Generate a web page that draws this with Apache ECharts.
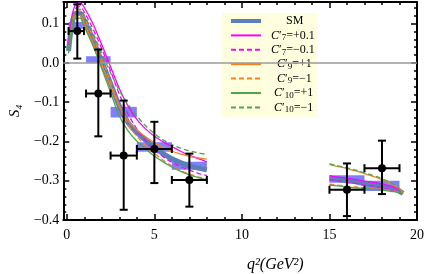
<!DOCTYPE html>
<html><head><meta charset="utf-8">
<script src="https://cdn.jsdelivr.net/npm/echarts@6/dist/echarts.min.js"></script>
<style>html,body{margin:0;padding:0;background:#fff}#c{width:427px;height:274px}</style>
</head><body><div id="c"></div>
<script>
// ---- data ----
const qLow  = [0.1,0.3,0.5,0.75,1,1.5,2,2.5,3,3.5,4,4.5,5,5.5,6,6.5,7,7.5,8];
const smLow   = [0.030,0.100,0.126,0.127,0.108,0.058,0.003,-0.052,-0.110,-0.152,-0.177,-0.197,-0.215,-0.231,-0.244,-0.254,-0.262,-0.268,-0.272];
const c7pLow  = [0.045,0.120,0.148,0.153,0.141,0.099,0.046,-0.010,-0.065,-0.110,-0.144,-0.168,-0.187,-0.201,-0.213,-0.225,-0.235,-0.244,-0.252];
const c7mLow  = [0.038,0.110,0.138,0.143,0.129,0.086,0.036,-0.020,-0.080,-0.130,-0.168,-0.198,-0.221,-0.239,-0.253,-0.264,-0.273,-0.281,-0.287];
const c9pLow  = [0.028,0.095,0.120,0.121,0.100,0.050,-0.005,-0.058,-0.110,-0.147,-0.170,-0.188,-0.203,-0.215,-0.225,-0.232,-0.238,-0.242,-0.245];
const c9mLow  = [0.032,0.103,0.130,0.132,0.114,0.066,0.010,-0.047,-0.110,-0.158,-0.187,-0.210,-0.230,-0.248,-0.262,-0.274,-0.283,-0.290,-0.295];
const c10pLow = [0.024,0.088,0.113,0.114,0.092,0.043,-0.015,-0.075,-0.135,-0.173,-0.199,-0.219,-0.237,-0.252,-0.265,-0.276,-0.285,-0.292,-0.298];
const c10mLow = [0.036,0.105,0.133,0.137,0.121,0.076,0.024,-0.025,-0.070,-0.105,-0.135,-0.160,-0.180,-0.196,-0.208,-0.217,-0.224,-0.229,-0.233];

const qHigh = [15,15.5,16,16.5,17,17.5,18,18.5,19,19.2];
const smHigh   = [-0.293,-0.297,-0.300,-0.303,-0.307,-0.310,-0.314,-0.319,-0.327,-0.332];
const c7pHigh  = [-0.287,-0.291,-0.294,-0.297,-0.301,-0.304,-0.308,-0.314,-0.323,-0.330];
const c7mHigh  = [-0.297,-0.301,-0.304,-0.307,-0.311,-0.314,-0.318,-0.322,-0.329,-0.333];
const c9pHigh  = [-0.259,-0.264,-0.269,-0.275,-0.282,-0.289,-0.297,-0.307,-0.321,-0.331];
const c9mHigh  = [-0.309,-0.311,-0.314,-0.316,-0.318,-0.320,-0.322,-0.325,-0.329,-0.333];
const c10pHigh = [-0.311,-0.313,-0.316,-0.318,-0.320,-0.322,-0.324,-0.327,-0.330,-0.333];
const c10mHigh = [-0.257,-0.262,-0.267,-0.273,-0.280,-0.287,-0.295,-0.305,-0.320,-0.331];

// SM binned predictions
const binLo   = [0.1, 1.1, 2.5, 4, 6, 15, 17];
const binHi   = [0.98, 2.5, 4, 6, 8, 17, 19];
const smBinLo = [0.087, 0.000, -0.139, -0.226, -0.272, -0.305, -0.326];
const smBinHi = [0.104, 0.017, -0.112, -0.202, -0.252, -0.286, -0.300];

// measurements
const expX    = [0.6, 1.8, 3.25, 5, 7, 16, 18];
const expY    = [0.081, -0.078, -0.236, -0.219, -0.298, -0.323, -0.268];
const expYHi  = [0.149, 0.034, -0.096, -0.150, -0.231, -0.256, -0.198];
const expYLo  = [0.011, -0.187, -0.374, -0.306, -0.366, -0.390, -0.334];

// horizontal reference line
const refLineX = [-0.2, 20];
const refLineY = 0;

const xMajor = [0, 5, 10, 15, 20];
const xMinor = [1,2,3,4,6,7,8,9,11,12,13,14,16,17,18,19];

const names = ['SM','C7p','C7m','C9p','C9m','C10p','C10m'];
const legendText = {
  SM:   '{sm|SM}',
  C7p:  '{a|C}{t|′}{s|7}{t|=+0.1}',
  C7m:  '{a|C}{t|′}{s|7}{t|=−0.1}',
  C9p:  '{b|C}{t|′}{s|9}{t|=+1}',
  C9m:  '{b|C}{t|′}{s|9}{t|=−1}',
  C10p: '{c|C}{t|′}{s|10}{t|=+1}',
  C10m: '{c|C}{t|′}{s|10}{t|=−1}'
};

// ---- build ----
const zip = (xs, ys) => xs.map((x, i) => [x, ys[i]]);
const SERIF = 'Liberation Serif, DejaVu Serif, serif';
const colSM = '#5b7fb8', colMag = '#ff00ff', colOr = '#f5821f', colGr = '#4ca64c';

function curve(name, xs, ys, color, width, type) {
  return { name, type: 'line', data: zip(xs, ys), smooth: 0.35, symbol: 'none', silent: true,
    lineStyle: { color, width, type: type || 'solid' }, itemStyle: { color }, z: 2 };
}

const series = [
  curve('SM', qLow, smLow, colSM, 5), curve('SM', qHigh, smHigh, colSM, 5),
  curve('C7p', qLow, c7pLow, colMag, 1.3), curve('C7p', qHigh, c7pHigh, colMag, 1.3),
  curve('C7m', qLow, c7mLow, colMag, 1.3, [5, 3]), curve('C7m', qHigh, c7mHigh, colMag, 1.3, [5, 3]),
  curve('C9p', qLow, c9pLow, colOr, 1.3), curve('C9p', qHigh, c9pHigh, colOr, 1.3),
  curve('C9m', qLow, c9mLow, colOr, 1.3, [5, 3]), curve('C9m', qHigh, c9mHigh, colOr, 1.3, [5, 3]),
  curve('C10p', qLow, c10pLow, colGr, 1.3), curve('C10p', qHigh, c10pHigh, colGr, 1.3),
  curve('C10m', qLow, c10mLow, colGr, 1.3, [5, 3]), curve('C10m', qHigh, c10mHigh, colGr, 1.3, [5, 3]),
  { type: 'custom', silent: true, z: 2,
    data: binLo.map((lo, i) => [lo, binHi[i], smBinLo[i], smBinHi[i]]),
    encode: { x: [0, 1], y: [2, 3] },
    renderItem: (params, api) => {
      const p1 = api.coord([api.value(0), api.value(3)]);
      const p2 = api.coord([api.value(1), api.value(2)]);
      return { type: 'rect', shape: { x: p1[0], y: p1[1], width: p2[0] - p1[0], height: p2[1] - p1[1] },
        style: { fill: 'rgba(60,60,255,0.65)' } };
    } },
  { type: 'custom', silent: true, zlevel: 2, z: 1, clip: false,
    data: [[refLineX[0], refLineY, refLineX[1], refLineY]],
    encode: { x: [0, 2], y: [1, 3] },
    renderItem: (params, api) => {
      const a = api.coord([api.value(0), api.value(1)]);
      const b = api.coord([api.value(2), api.value(3)]);
      return { type: 'line', z2: 100, shape: { x1: a[0], y1: a[1], x2: b[0], y2: b[1] },
        style: { stroke: '#9a9a9a', lineWidth: 1.5 } };
    } },
  { type: 'custom', silent: true, zlevel: 2, z: 5,
    data: expX.map((x, i) => [x, expY[i], binLo[i], binHi[i], expYLo[i], expYHi[i]]),
    encode: { x: 0, y: 1 },
    renderItem: (params, api) => {
      const x = api.value(0), y = api.value(1);
      const c = api.coord([x, y]);
      const l = api.coord([api.value(2), y]), r = api.coord([api.value(3), y]);
      const b = api.coord([x, api.value(4)]), t = api.coord([x, api.value(5)]);
      const st = { stroke: '#000', lineWidth: 2 };
      const cap = 4;
      return { type: 'group', children: [
        { type: 'line', shape: { x1: l[0], y1: c[1], x2: r[0], y2: c[1] }, style: st },
        { type: 'line', shape: { x1: c[0], y1: t[1], x2: c[0], y2: b[1] }, style: st },
        { type: 'line', shape: { x1: c[0] - cap, y1: t[1], x2: c[0] + cap, y2: t[1] }, style: st },
        { type: 'line', shape: { x1: c[0] - cap, y1: b[1], x2: c[0] + cap, y2: b[1] }, style: st },
        { type: 'line', shape: { x1: l[0], y1: c[1] - cap, x2: l[0], y2: c[1] + cap }, style: st },
        { type: 'line', shape: { x1: r[0], y1: c[1] - cap, x2: r[0], y2: c[1] + cap }, style: st },
        { type: 'circle', shape: { cx: c[0], cy: c[1], r: 4 }, style: { fill: '#000' } }
      ] };
    } }
];

const axisLine = { show: true, onZero: false, lineStyle: { color: '#000', width: 2 } };
const noLine = { show: false, onZero: false };
const xBase = { type: 'value', min: -0.2, max: 20, splitLine: { show: false } };
const yBase = { type: 'value', min: -0.4, max: 0.155, splitLine: { show: false } };
const tickMajor = len => ({ show: true, inside: true, length: len, lineStyle: { color: '#000', width: 1.5 } });

const option = {
  animation: false,
  backgroundColor: '#fff',
  grid: { left: 61, right: 9, top: 2, bottom: 54 },
  title: { text: 'q²(GeV²)', left: 242, top: 252,
    textStyle: { fontFamily: SERIF, fontStyle: 'italic', fontWeight: 'normal', fontSize: 16, color: '#000' } },
  legend: {
    data: names.map(n => n === 'SM' ? { name: n, lineStyle: { width: 4 } } : n),
    orient: 'vertical', left: 222, top: 13, zlevel: 0, z: 4,
    backgroundColor: '#ffffe0', padding: [1, 3, 3, 7], itemGap: 0.4,
    itemWidth: 30, itemHeight: 14, selectedMode: false,
    itemStyle: { opacity: 0, borderWidth: 0 },
    formatter: n => legendText[n],
    textStyle: { fontFamily: SERIF, fontSize: 12, color: '#000', lineHeight: 14,
      rich: {
        sm: { fontFamily: SERIF, fontSize: 12, padding: [0, 0, 0, 20] },
        a: { fontFamily: SERIF, fontSize: 12, fontStyle: 'italic', padding: [0, 0, 0, 5] },
        b: { fontFamily: SERIF, fontSize: 12, fontStyle: 'italic', padding: [0, 0, 0, 11] },
        c: { fontFamily: SERIF, fontSize: 12, fontStyle: 'italic', padding: [0, 0, 0, 8] },
        s: { fontFamily: SERIF, fontSize: 9, lineHeight: 14, verticalAlign: 'bottom' },
        t: { fontFamily: SERIF, fontSize: 12 }
      } }
  },
  xAxis: [
    Object.assign({}, xBase, { position: 'bottom', axisLine,
      axisTick: Object.assign(tickMajor(6), { customValues: xMajor }),
      axisLabel: { customValues: xMajor, fontFamily: SERIF, fontSize: 14, color: '#000', margin: 8 } }),
    Object.assign({}, xBase, { position: 'bottom', axisLine: noLine,
      axisTick: Object.assign(tickMajor(3), { customValues: xMinor }), axisLabel: { show: false } }),
    Object.assign({}, xBase, { position: 'top', axisLine,
      axisTick: Object.assign(tickMajor(6), { customValues: xMajor }), axisLabel: { show: false } }),
    Object.assign({}, xBase, { position: 'top', axisLine: noLine,
      axisTick: Object.assign(tickMajor(3), { customValues: xMinor }), axisLabel: { show: false } })
  ],
  yAxis: [
    Object.assign({}, yBase, { position: 'left', interval: 0.1, axisLine,
      axisTick: tickMajor(6),
      name: 'S₄', nameLocation: 'middle', nameGap: 40, nameRotate: 90,
      nameTextStyle: { fontFamily: SERIF, fontStyle: 'italic', fontSize: 15, color: '#000' },
      axisLabel: { fontFamily: SERIF, fontSize: 14, color: '#000', margin: 4,
        formatter: v => { const k = Math.round(v * 10); if (Math.abs(v * 10 - k) > 1e-6) return '';
          return (k / 10).toFixed(1).replace('-', '−'); } } }),
    Object.assign({}, yBase, { position: 'left', interval: 0.02, axisLine: noLine,
      axisTick: tickMajor(3), axisLabel: { show: false } }),
    Object.assign({}, yBase, { position: 'right', interval: 0.1, axisLine,
      axisTick: tickMajor(6), axisLabel: { show: false } }),
    Object.assign({}, yBase, { position: 'right', interval: 0.02, axisLine: noLine,
      axisTick: tickMajor(3), axisLabel: { show: false } })
  ],
  series
};

const chart = echarts.init(document.getElementById('c'), null, { renderer: 'canvas' });
chart.setOption(option);
</script></body></html>
